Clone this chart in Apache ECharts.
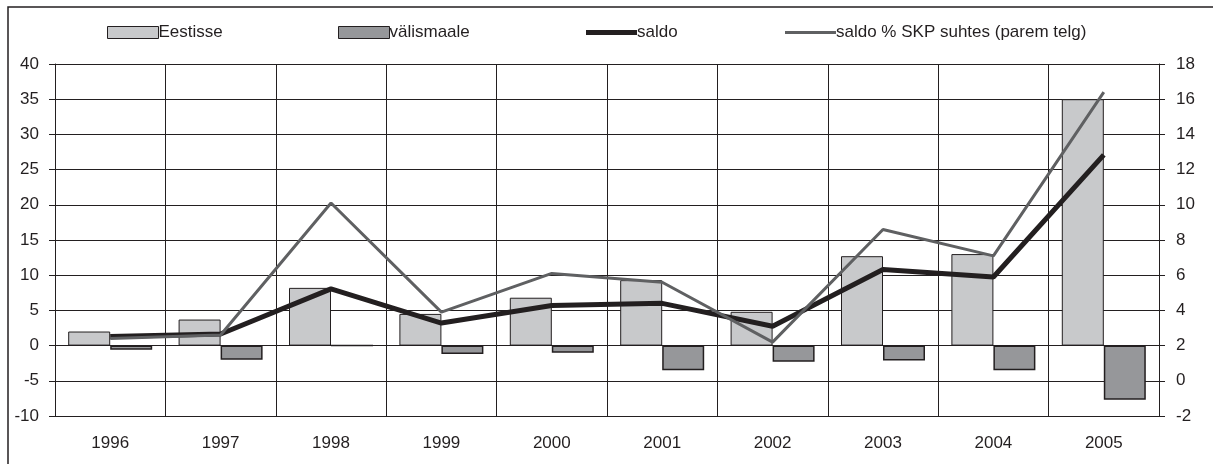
<!DOCTYPE html>
<html>
<head>
<meta charset="utf-8">
<script src="https://cdn.jsdelivr.net/npm/echarts@6/dist/echarts.min.js"></script>
<style>
html,body{margin:0;padding:0;background:#fff;}
#c{width:1213px;height:464px;}
</style>
</head>
<body>
<div id="c"></div>
<script>
const years = ['1996','1997','1998','1999','2000','2001','2002','2003','2004','2005'];
const eestisse = [2.0, 3.7, 8.2, 4.5, 6.8, 9.3, 4.8, 12.7, 13.0, 35.0];
const valismaale = [-0.6, -2.0, 0, -1.2, -1.0, -3.5, -2.3, -2.1, -3.5, -7.7];
const saldo = [1.3, 1.65, 8.05, 3.2, 5.7, 6.0, 2.75, 10.8, 9.75, 27.1];
const saldoSKP = [2.4, 2.6, 10.1, 3.9, 6.1, 5.6, 2.2, 8.6, 7.1, 16.4];
const leftTicks = {min: -10, max: 40, interval: 5};
const rightTicks = {min: -2, max: 18, interval: 2};

const ink = '#231f20';
const font = 'Liberation Sans, Arial, sans-serif';
const chart = echarts.init(document.getElementById('c'));

function leg(name, left, w, h, color, border) {
  return {
    left: left, top: 24, itemWidth: w, itemHeight: h, itemGap: 0,
    padding: 0,
    textStyle: {fontFamily: font, fontSize: 17, color: ink, padding: [0,0,0,-5]},
    data: [{name: name, icon: 'rect',
      itemStyle: {color: color, borderColor: border ? ink : color, borderWidth: border ? 1 : 0}}]
  };
}

chart.setOption({
  animation: false,
  backgroundColor: '#fff',
  graphic: [{type: 'rect', shape: {x: 8, y: 7, width: 1220, height: 470},
    style: {fill: 'none', stroke: ink, lineWidth: 1.5}, silent: true}],
  legend: [
    leg('Eestisse', 107, 51, 12, '#c8c9cb', true),
    leg('välismaale', 338, 51, 12, '#96979a', true),
    leg('saldo', 586, 51, 5, ink, false),
    leg('saldo % SKP suhtes (parem telg)', 785, 51, 3, '#5f6062', false)
  ],
  grid: {left: 55, right: 54, top: 64, bottom: 48, containLabel: false},
  xAxis: {
    type: 'category', data: years, boundaryGap: true,
    axisLine: {onZero: false, lineStyle: {color: ink, width: 1}},
    axisTick: {show: false},
    axisLabel: {fontFamily: font, fontSize: 17, color: ink, margin: 19},
    splitLine: {show: true, lineStyle: {color: ink, width: 1}}
  },
  yAxis: [{
    type: 'value', min: leftTicks.min, max: leftTicks.max, interval: leftTicks.interval,
    axisLine: {show: true, lineStyle: {color: ink, width: 1}},
    axisTick: {show: true, length: 6, lineStyle: {color: ink}},
    axisLabel: {fontFamily: font, fontSize: 17, color: ink, margin: 16},
    splitLine: {show: true, lineStyle: {color: ink, width: 1}}
  }, {
    type: 'value', position: 'right', min: rightTicks.min, max: rightTicks.max, interval: rightTicks.interval,
    axisLine: {show: true, lineStyle: {color: ink, width: 1}},
    axisTick: {show: true, length: 6, lineStyle: {color: ink}},
    axisLabel: {fontFamily: font, fontSize: 17, color: ink, margin: 17},
    splitLine: {show: false}
  }],
  series: [
    {name: 'Eestisse', type: 'bar', data: eestisse, barWidth: 42, barGap: '0%',
      itemStyle: {color: '#c8c9cb', borderColor: ink, borderWidth: 1}},
    {name: 'välismaale', type: 'bar', data: valismaale, barWidth: 42, barGap: '0%',
      itemStyle: {color: '#96979a', borderColor: ink, borderWidth: 1.5}},
    {name: 'saldo', type: 'line', data: saldo, symbol: 'none', showSymbol: false,
      lineStyle: {color: ink, width: 5}, itemStyle: {color: ink}, z: 3},
    {name: 'saldo % SKP suhtes (parem telg)', type: 'line', yAxisIndex: 1, data: saldoSKP,
      symbol: 'none', showSymbol: false,
      lineStyle: {color: '#5f6062', width: 3}, itemStyle: {color: '#5f6062'}, z: 4}
  ]
});
</script>
</body>
</html>
